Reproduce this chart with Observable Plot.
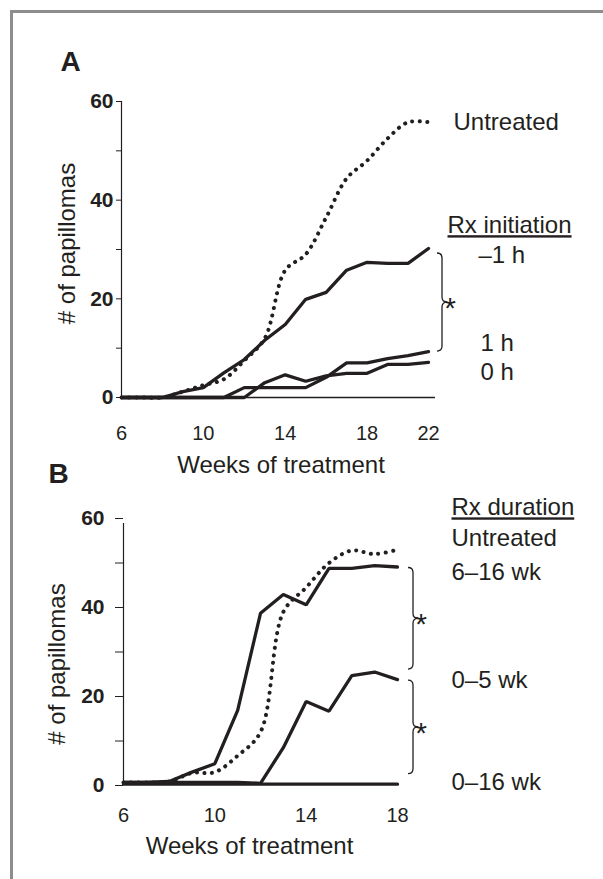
<!DOCTYPE html>
<html><head><meta charset="utf-8">
<script src="https://cdn.jsdelivr.net/npm/d3@7"></script>
<script src="https://cdn.jsdelivr.net/npm/@observablehq/plot@0.6"></script>
<style>
html,body{margin:0;padding:0;background:#fff;}
#wrap{position:relative;width:603px;height:879px;overflow:hidden;background:#fff;}
#pa{position:absolute;left:0;top:0;}
#pb{position:absolute;left:0;top:480px;}
#frame{position:absolute;left:10px;top:10px;width:800px;height:1000px;border-left:3px solid #8d8d8d;border-top:3px solid #8d8d8d;z-index:5;pointer-events:none;}
</style></head><body>
<div id="wrap"><div id="pa"></div><div id="pb"></div><div id="frame"></div></div>
<script>
// ---------- Panel A data ----------
const weeksA = [6,7,8,9,10,11,12,13,14,15,16,17,18,19,20,21];
const untreatedA = [0,0,0,1.2,2.5,3.7,7.5,12,25.8,29,36.5,44.4,48,52.5,55.8,55.8];
const minus1hA  = [0,0,0,1.2,2,5,7.7,11.6,14.8,19.9,21.3,25.8,27.4,27.2,27.2,30.2];
const oneHourA  = [0,0,0,0,0,0,2,2,2,2,4.1,7,7,7.9,8.5,9.3];
const zeroHourA = [0,0,0,0,0,0,0,3,4.6,3.3,4.4,4.9,4.9,6.7,6.7,7.1];
const namesA = ["Untreated","\u20131 h","1 h","0 h"];
const legendTitleA = "Rx initiation";
const xTickWeeksA = [6,10,14,18,21];
const xTickLabelsA = ["6","10","14","18","22"];

// ---------- Panel B data ----------
const weeksB = [6,7,8,9,10,11,12,13,14,15,16,17,18];
const untreatedB = [0.7,0.7,0.9,2.8,3,6.7,12,39,44.5,50,52.8,52,53];
const sixTo16B   = [0.7,0.7,0.9,3,4.9,16.9,38.7,42.9,40.6,48.8,48.8,49.4,49.1];
const zeroTo5B   = [0.7,0.7,0.7,0.7,0.7,0.7,0.5,8.5,18.9,16.7,24.7,25.5,23.8];
const zeroTo16B  = [0.3,0.3,0.3,0.3,0.3,0.3,0.3,0.3,0.3,0.3,0.3,0.3,0.3];
const namesB = ["Untreated","6\u201316 wk","0\u20135 wk","0\u201316 wk"];
const legendTitleB = "Rx duration";
const xTickWeeksB = [6,10,14,18];
const xTickLabelsB = ["6","10","14","18"];

// shared axis
const yTicks = [0,10,20,30,40,50,60];
const yTickLabels = ["0","","20","","40","","60"];
const xTitle = "Weeks of treatment";
const yTitle = "# of papillomas";

// ---------- build tables ----------
function rows(weeks, names, seriesList) {
  return names.flatMap((n, k) => weeks.map((w, i) => ({week: w, count: seriesList[k][i], series: n})));
}
const rowsA = rows(weeksA, namesA, [untreatedA, minus1hA, oneHourA, zeroHourA]);
const rowsB = rows(weeksB, namesB, [untreatedB, sixTo16B, zeroTo5B, zeroTo16B]);
const endOf = (weeks, arr) => ({week: weeks[weeks.length - 1], count: arr[arr.length - 1]});

const ink = "#231f20";
const font = "'Liberation Sans', Arial, Helvetica, sans-serif";

function panel(cfg) {
  const solid = cfg.rows.filter(d => d.series !== "Untreated");
  const dotted = cfg.rows.filter(d => d.series === "Untreated");
  const labelMarks = cfg.names.map((n, k) => Plot.text([cfg.ends[k]], {
    x: "week", y: "count", text: () => n, textAnchor: "start", lineAnchor: "middle",
    dx: cfg.labelDx[k], dy: cfg.labelDy[k], fontSize: 24, fill: ink
  }));
  const plot = Plot.plot({
    width: 603, height: cfg.height,
    marginLeft: cfg.ml, marginRight: cfg.mr, marginTop: cfg.mt, marginBottom: cfg.mb,
    style: {fontFamily: font, color: ink, background: "transparent", overflow: "visible"},
    x: {domain: cfg.xDomain, label: null},
    y: {domain: [0, 60], label: null},
    marks: [
      ...(cfg.baseline ? [Plot.ruleY([0], {stroke: ink, strokeWidth: 1.5, insetRight: -7})] : []),
      Plot.ruleX([cfg.xDomain[0]], {y1: 0, y2: 60, stroke: ink, strokeWidth: 1.2, insetBottom: cfg.axisExtend}),
      Plot.axisY({ticks: yTicks, tickFormat: d => yTickLabels[yTicks.indexOf(d)], tickSize: cfg.tickSize,
        tickPadding: cfg.tickPadding, fontSize: 21, fontWeight: "bold", strokeWidth: 1, label: null}),
      Plot.axisX({ticks: cfg.xTicks, tickFormat: d => cfg.xTickLabels[cfg.xTicks.indexOf(d)], tickSize: 0,
        tickPadding: cfg.xTickPadding, fontSize: 20, label: null}),
      Plot.line(solid, {x: "week", y: "count", z: "series", stroke: ink, strokeWidth: 3.3, strokeLinejoin: "miter"}),
      Plot.line(dotted, {x: "week", y: "count", curve: "catmull-rom", stroke: ink, strokeWidth: 4,
        strokeDasharray: "0.1 7.4", strokeLinecap: "round"}),
      ...labelMarks,
      Plot.text([cfg.ends[cfg.legendRef]], {x: "week", y: "count", text: () => cfg.legendTitle, textAnchor: "start",
        lineAnchor: "middle", dx: cfg.legendDx, dy: cfg.legendDy, fontSize: 24, fill: ink}),
      Plot.text([cfg.letter], {frameAnchor: "top-left", textAnchor: "start", lineAnchor: "bottom",
        dx: cfg.letterDx, dy: cfg.letterDy, fontSize: 28, fontWeight: "bold", fill: ink}),
      Plot.text([xTitle], {frameAnchor: "bottom", textAnchor: "middle", lineAnchor: "bottom", dx: cfg.xtDx, dy: cfg.xtDy, fontSize: 24, fill: ink}),
      Plot.text([yTitle], {frameAnchor: "left", textAnchor: "middle", rotate: -90, lineAnchor: "middle", dx: cfg.ytDx, dy: cfg.ytDy, fontSize: 24, fill: ink})
    ]
  });
  // braces and stars drawn with the plot's own scales
  const sx = plot.scale("x"), sy = plot.scale("y");
  const svg = d3.select(plot);
  cfg.braces.forEach(([a, b]) => {
    const ea = cfg.ends[cfg.names.indexOf(a)], eb = cfg.ends[cfg.names.indexOf(b)];
    const x0 = sx.apply(ea.week) + cfg.braceDx, w = 5;
    const yT = sy.apply(ea.count) + cfg.braceInsetTop, yB = sy.apply(eb.count) - cfg.braceInsetBottom;
    const ym = (yT + yB) / 2;
    const p = `M${x0},${yT} Q${x0+w},${yT} ${x0+w},${yT+w} L${x0+w},${ym-w} Q${x0+w},${ym} ${x0+2*w},${ym} ` +
      `Q${x0+w},${ym} ${x0+w},${ym+w} L${x0+w},${yB-w} Q${x0+w},${yB} ${x0},${yB}`;
    svg.append("path").attr("d", p).attr("fill", "none").attr("stroke", ink).attr("stroke-width", 1.3);
    svg.append("text").attr("x", x0 + 2*w + 3).attr("y", ym + 16).attr("font-size", 30)
      .attr("font-family", font).attr("fill", ink).text("*");
  });
  svg.selectAll("text").filter(function() { return this.textContent === cfg.legendTitle; })
    .attr("text-decoration", "underline");
  return plot;
}

const plotA = panel({
  rows: rowsA, names: namesA, height: 480, ml: 121, mr: 175, mt: 101, mb: 83,
  xDomain: [6, 21], xTicks: xTickWeeksA, xTickLabels: xTickLabelsA, xTickPadding: 28, baseline: true,
  axisExtend: 0, tickSize: 5, tickPadding: 3,
  ends: [endOf(weeksA, untreatedA), endOf(weeksA, minus1hA), endOf(weeksA, oneHourA), endOf(weeksA, zeroHourA)],
  labelDx: [25, 50, 52, 52], labelDy: [0, 7, -8, 10],
  legendTitle: legendTitleA, legendRef: 1, legendDx: 19, legendDy: -23,
  letter: "A", letterDx: -61, letterDy: -31,
  xtDx: 6, xtDy: 75, ytDx: -54, ytDy: -6,
  braces: [["\u20131 h", "1 h"]], braceDx: 9, braceInsetTop: 5, braceInsetBottom: 0
});
const plotB = panel({
  rows: rowsB, names: namesB, height: 399, ml: 123, mr: 206, mt: 38, mb: 94,
  xDomain: [6, 18], xTicks: xTickWeeksB, xTickLabels: xTickLabelsB, xTickPadding: 22, baseline: false,
  axisExtend: -5, tickSize: 8, tickPadding: 11,
  ends: [endOf(weeksB, untreatedB), endOf(weeksB, sixTo16B), endOf(weeksB, zeroTo5B), endOf(weeksB, zeroTo16B)],
  labelDx: [54, 54, 54, 54], labelDy: [-11, 5.5, 1, -2],
  legendTitle: legendTitleB, legendRef: 0, legendDx: 54, legendDy: -42,
  letter: "B", letterDx: -75, letterDy: -36,
  xtDx: -11, xtDy: 68, ytDx: -66, ytDy: 12,
  braces: [["6\u201316 wk", "0\u20135 wk"], ["0\u20135 wk", "0\u201316 wk"]], braceDx: 11, braceInsetTop: 1, braceInsetBottom: 10
});
document.getElementById("pa").appendChild(plotA);
document.getElementById("pb").appendChild(plotB);
</script>
</body></html>
